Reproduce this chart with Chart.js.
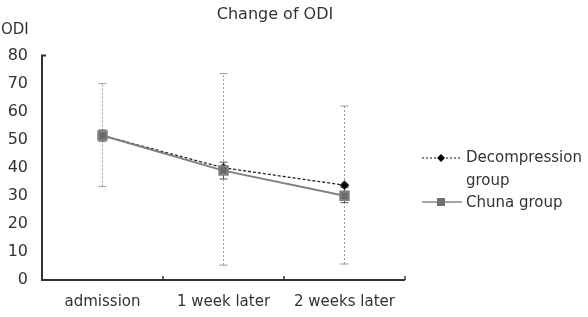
<!DOCTYPE html>
<html>
<head>
<meta charset="utf-8">
<script src="https://cdn.jsdelivr.net/npm/chart.js@4"></script>
<style>
  html, body { margin: 0; padding: 0; background: #fff; }
  #box { width: 588px; height: 317px; position: relative; }
</style>
</head>
<body>
<div id="box"><canvas id="grafica" width="588" height="317"></canvas></div>
<script>
// data
var labels = ['admission', '1 week later', '2 weeks later'];
var decompression = [51.5, 40, 33.8];
var chuna = [51.5, 39, 30];
// error bars [low, high]
var decompLow = [33.3, 5.3, 5.7];
var decompHigh = [70, 73.6, 62];
var chunaLow = [49.5, 36, 27.6];
var chunaHigh = [53.5, 42, 33];
var yTicks = [0, 10, 20, 30, 40, 50, 60, 70, 80];

var FONT = "'DejaVu Sans', sans-serif";

// draws error bars, title, axis caption, legend
var extras = {
  id: 'extras',
  beforeDatasetsDraw: function (chart) {
    var c = chart.ctx, x = chart.scales.x, y = chart.scales.y;
    function bar(i, lo, hi, color, dash) {
      var px = x.getPixelForValue(i);
      var y1 = y.getPixelForValue(lo), y2 = y.getPixelForValue(hi);
      c.save();
      c.strokeStyle = color;
      c.lineWidth = 1;
      c.setLineDash(dash);
      c.beginPath();
      c.moveTo(px, y1); c.lineTo(px, y2);
      c.stroke();
      c.setLineDash([]);
      c.beginPath();
      c.moveTo(px - 4, y1); c.lineTo(px + 4, y1);
      c.moveTo(px - 4, y2); c.lineTo(px + 4, y2);
      c.stroke();
      c.restore();
    }
    for (var i = 0; i < labels.length; i++) {
      bar(i, decompLow[i], decompHigh[i], '#9a9a9a', [2, 2]);
      bar(i, chunaLow[i], chunaHigh[i], '#555', []);
    }
  },
  afterDraw: function (chart) {
    var c = chart.ctx, x = chart.scales.x, y = chart.scales.y, a = chart.chartArea;
    c.save();
    // axis frame
    c.strokeStyle = '#333';
    c.lineWidth = 2;
    c.beginPath();
    c.moveTo(a.left + 4, y.getPixelForValue(80));
    c.lineTo(a.left, y.getPixelForValue(80));
    c.lineTo(a.left, a.bottom);
    c.lineTo(a.right, a.bottom);
    c.stroke();
    // category boundary ticks pointing up
    c.lineWidth = 1.5;
    var step = (a.right - a.left) / labels.length;
    for (var k = 1; k <= labels.length; k++) {
      var tx = a.left + step * k;
      c.beginPath();
      c.moveTo(tx, a.bottom);
      c.lineTo(tx, a.bottom - 4);
      c.stroke();
    }
    // title and y caption
    c.fillStyle = '#333';
    c.font = '16px ' + FONT;
    c.textAlign = 'center';
    c.textBaseline = 'middle';
    c.fillText('Change of ODI', 275, 15);
    c.font = '15px ' + FONT;
    c.textAlign = 'left';
    c.fillText('ODI', 1, 30);
    // legend
    c.strokeStyle = '#111';
    c.lineWidth = 1.2;
    c.setLineDash([2, 2]);
    c.beginPath(); c.moveTo(422, 158); c.lineTo(462, 158); c.stroke();
    c.setLineDash([]);
    c.fillStyle = '#000';
    c.beginPath();
    c.moveTo(441, 154); c.lineTo(445, 158); c.lineTo(441, 162); c.lineTo(437, 158);
    c.closePath(); c.fill();
    c.strokeStyle = '#888';
    c.lineWidth = 1.5;
    c.beginPath(); c.moveTo(422, 202); c.lineTo(462, 202); c.stroke();
    c.fillStyle = '#707070';
    c.fillRect(437, 198, 8, 8);
    c.fillStyle = '#333';
    c.fillText('Decompression', 466, 158);
    c.fillText('group', 466, 181);
    c.fillText('Chuna group', 466, 203);
    c.restore();
  }
};

var ctx = document.getElementById('grafica').getContext('2d');
var myChart = new Chart(ctx, {
  type: 'line',
  data: {
    labels: labels,
    datasets: [{
      label: 'Decompression group',
      data: decompression,
      order: 1,
      borderColor: '#222',
      backgroundColor: '#000',
      borderWidth: 1.3,
      borderDash: [3, 2],
      pointStyle: 'rectRot',
      pointRadius: 4,
      pointHoverRadius: 4,
      tension: 0
    }, {
      label: 'Chuna group',
      data: chuna,
      order: 0,
      borderColor: '#808080',
      backgroundColor: '#6a6a6a',
      borderWidth: 2,
      pointStyle: 'rect',
      pointRadius: 6,
      pointHoverRadius: 6,
      tension: 0
    }]
  },
  options: {
    responsive: false,
    animation: false,
    events: [],
    layout: { padding: { top: 50, right: 183, left: 0, bottom: 0 } },
    plugins: { legend: { display: false }, tooltip: { enabled: false } },
    scales: {
      x: {
        offset: true,
        grid: { display: false },
        border: { display: false },
        ticks: { color: '#333', font: { family: FONT, size: 15 }, padding: 5, maxRotation: 0, autoSkip: false },
        afterFit: function (s) { s.height = 37; }
      },
      y: {
        min: 0, max: 82,
        afterBuildTicks: function (s) { s.ticks = yTicks.map(function (v) { return { value: v }; }); },
        grid: { display: false },
        border: { display: false },
        ticks: { color: '#333', font: { family: FONT, size: 16 }, padding: 6, autoSkip: false },
        afterFit: function (s) { s.width = 42; }
      }
    }
  },
  plugins: [extras]
});
</script>
</body>
</html>
